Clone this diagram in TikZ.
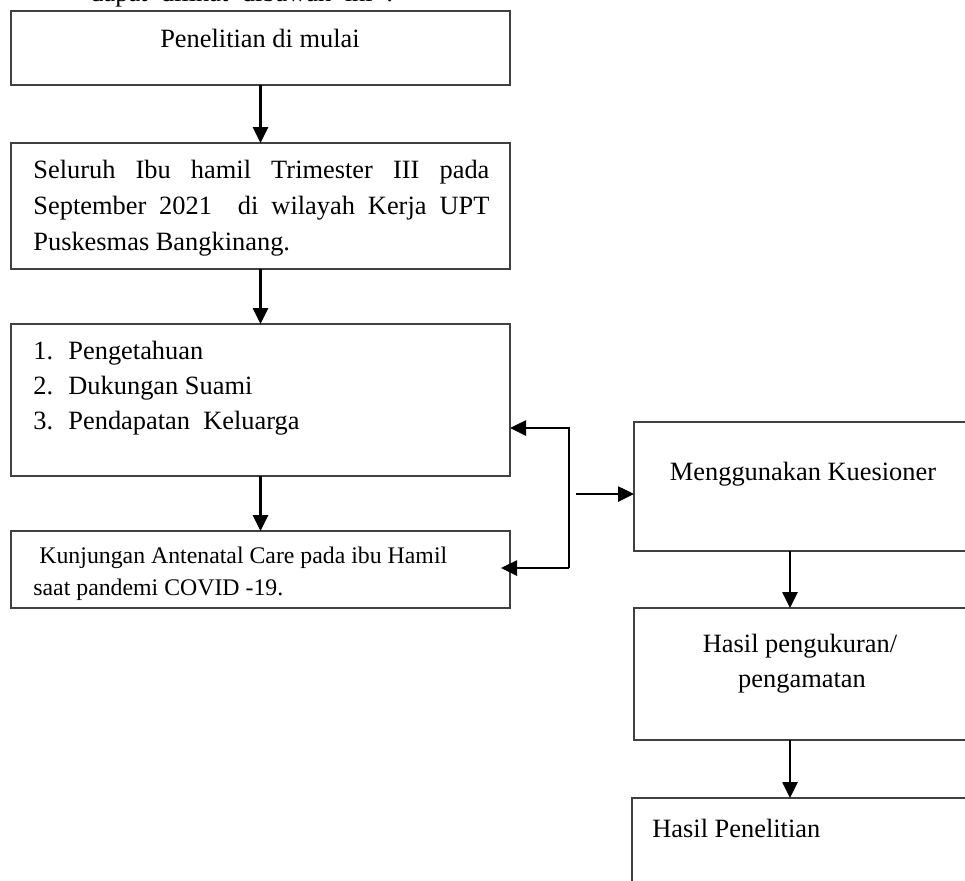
\documentclass[tikz,border=0pt]{standalone}
\usepackage{fontspec}
\setmainfont{Liberation Serif}
\usetikzlibrary{arrows.meta}
\begin{document}
\begin{tikzpicture}[x=0.5pt,y=-0.5pt,
  box/.style={draw=black!75, line width=0.7pt, rectangle, inner sep=0pt, outer sep=0pt, anchor=north west},
  txt/.style={inner sep=0pt, anchor=base west, font=\fontsize{13.2}{16}\selectfont},
  txtc/.style={txt, anchor=base},
  small/.style={txt, font=\fontsize{11.9}{14}\selectfont},
  conn/.style={line width=1.3pt, -{Triangle[length=8pt,width=7.5pt]}}]
\useasboundingbox (0,0) rectangle (965,880);
\clip (0,0) rectangle (965,880);
% top cut-off line of text
\node[txt] (t0) at (90,1) {\makebox[151.5pt][s]{dapat dilihat dibawah ini :}};
% boxes
\node[box, minimum width=249.5pt, minimum height=37pt] (b1) at (11,11) {};
\node[box, minimum width=249.5pt, minimum height=63pt] (b2) at (11,143) {};
\node[box, minimum width=249.5pt, minimum height=76pt] (b3) at (11,324) {};
\node[box, minimum width=249.5pt, minimum height=38.5pt] (b4) at (11,531) {};
\node[box, minimum width=200pt, minimum height=64.5pt] (b5) at (634,422) {};
\node[box, minimum width=200pt, minimum height=66pt] (b6) at (634,608) {};
\node[box, minimum width=200pt, minimum height=60pt] (b7) at (632,798) {};
% texts
\node[txtc] (t1) at (260,47) {Penelitian di mulai};
\node[txt] (t2a) at (33,178) {\makebox[228pt][s]{Seluruh Ibu hamil Trimester III pada}};
\node[txt] (t2b) at (33,214) {\makebox[228pt][s]{September 2021\ \ di wilayah Kerja UPT}};
\node[txt] (t2c) at (33,250) {Puskesmas Bangkinang.};
\node[txt] (n1) at (33,359) {1.};
\node[txt] (i1) at (68,359) {Pengetahuan};
\node[txt] (n2) at (33,394) {2.};
\node[txt] (i2) at (68,394) {Dukungan Suami};
\node[txt] (n3) at (33,429) {3.};
\node[txt] (i3) at (68,429) {Pendapatan\ \ Keluarga};
\node[small] (t4a) at (39,563) {Kunjungan Antenatal Care pada ibu Hamil};
\node[small] (t4b) at (33,595) {saat pandemi COVID -19.};
\node[txtc] (t5) at (803,480) {Menggunakan Kuesioner};
\node[txtc] (t6a) at (800,652) {Hasil pengukuran/};
\node[txtc] (t6b) at (802,687) {pengamatan};
\node[txt] (t7) at (652,837) {Hasil Penelitian};
% connectors
\draw[conn] (b1.south) -- (b2.north);
\draw[conn] (b2.south) -- (b3.north);
\draw[conn] (b3.south) -- (b4.north);
\coordinate (brt) at (569,428);
\coordinate (brb) at (569,568);
\draw[conn] (brb) -- (brt) -- (b3.east |- brt);
\draw[conn] (brb) -- ([xshift=-4.5pt]b4.east |- brb);
\coordinate (mid) at (576,494);
\draw[conn] (mid) -- (b5.west |- mid);
\coordinate (c56) at (790,0);
\draw[conn] (b5.south -| c56) -- (b6.north -| c56);
\draw[conn] (b6.south -| c56) -- (b7.north -| c56);
\end{tikzpicture}
\end{document}
